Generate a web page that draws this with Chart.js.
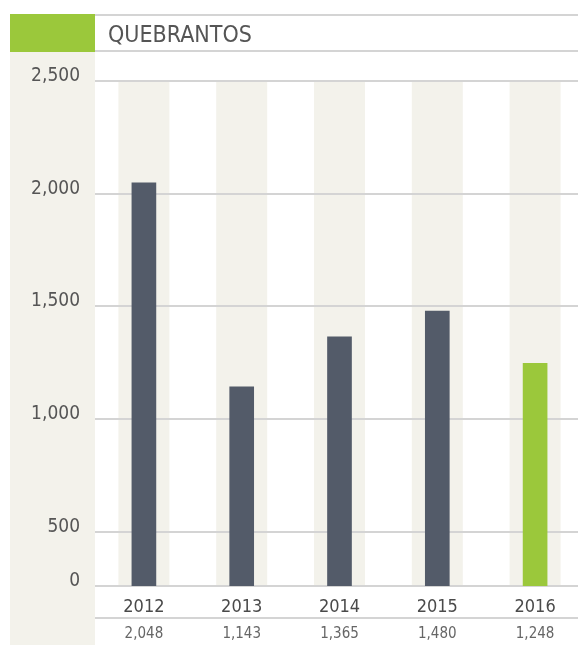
<!DOCTYPE html>
<html>
<head>
<meta charset="utf-8">
<script src="https://cdn.jsdelivr.net/npm/chart.js@4/dist/chart.umd.min.js"></script>
<style>
  html, body { margin: 0; padding: 0; background: #fff; }
  canvas { display: block; }
</style>
</head>
<body>
<canvas id="chart" width="578" height="645"></canvas>
<script>
// data
const title = "QUEBRANTOS";
const years = ["2012", "2013", "2014", "2015", "2016"];
const quebrantos = [2048, 1143, 1365, 1480, 1248];
const yTickValues = [500, 1000, 1500, 2000, 2500];
// the axis is broken: the "0" line sits where ~260 would be
const axisFloor = 260;

const FONT = "'Liberation Sans Narrow', 'DejaVu Sans Condensed', 'Roboto', sans-serif";
const slate = "#535b69";
const green = "#9bc83b";
const beige = "#f3f2eb";
const rule = "#d4d4d4";
const text = "#555555";

const fmt = function (v) {
	return v.toLocaleString("en-US");
};

// frame, header, stripes behind the bars, value row
const decor = {
	id: "decor",
	afterLayout(chart) {
		// the last column runs past the right edge of the page
		const x = chart.scales.x;
		x.right = x.left + years.length * 97.8;
		x.width = x.right - x.left;
		x.configure();
	},
	beforeDraw(chart) {
		const ctx = chart.ctx;
		const area = chart.chartArea;
		const x = chart.scales.x;
		ctx.save();
		// left column
		ctx.fillStyle = beige;
		ctx.fillRect(10, 52, 85, 593);
		// green header block
		ctx.fillStyle = green;
		ctx.fillRect(10, 14, 85, 38);
		// stripes
		ctx.fillStyle = beige;
		for (let i = 0; i < years.length; i++) {
			const cx = x.getPixelForValue(i);
			ctx.fillRect(cx - 25.5, area.top + 1, 51, area.bottom - area.top - 1);
		}
		// header rules
		ctx.strokeStyle = rule;
		ctx.lineWidth = 2;
		ctx.beginPath();
		ctx.moveTo(95, 15);
		ctx.lineTo(578, 15);
		ctx.moveTo(95, 51);
		ctx.lineTo(578, 51);
		ctx.moveTo(95, 618);
		ctx.lineTo(578, 618);
		ctx.stroke();
		// title
		ctx.fillStyle = text;
		ctx.font = "23px " + FONT;
		ctx.textBaseline = "alphabetic";
		ctx.textAlign = "left";
		ctx.fillText(title, 108, 42);
		// value row
		ctx.fillStyle = "#666666";
		ctx.font = "15px " + FONT;
		ctx.textAlign = "center";
		ctx.textBaseline = "middle";
		for (let i = 0; i < years.length; i++) {
			ctx.fillText(fmt(quebrantos[i]), x.getPixelForValue(i), 634);
		}
		ctx.restore();
	}
};

new Chart(document.getElementById("chart"), {
	type: "bar",
	data: {
		labels: years,
		datasets: [{
			data: quebrantos,
			backgroundColor: (c) => (c.dataIndex === years.length - 1 ? green : slate),
			barThickness: 24
		}]
	},
	options: {
		responsive: false,
		animation: false,
		layout: { padding: { top: 81, right: 0, left: 0, bottom: 0 } },
		plugins: { legend: { display: false }, tooltip: { enabled: false } },
		scales: {
			x: {
				grid: { display: false },
				border: { display: false },
				ticks: {
					color: "#4a4a4a",
					font: { family: FONT, size: 18 },
					padding: 3
				},
				afterFit(scale) {
					scale.height = 59;
				}
			},
			y: {
				min: axisFloor,
				max: 2500,
				border: { display: false },
				grid: { color: rule, lineWidth: 2, drawTicks: false },
				ticks: {
					color: text,
					font: { family: FONT, size: 19 },
					padding: 15,
					labelOffset: -5,
					callback: (v) => (v === axisFloor ? "0" : fmt(v))
				},
				afterBuildTicks(scale) {
					scale.ticks = [axisFloor].concat(yTickValues).map((v) => ({ value: v }));
				},
				afterFit(scale) {
					scale.width = 95;
				}
			}
		}
	},
	plugins: [decor]
});
</script>
</body>
</html>
